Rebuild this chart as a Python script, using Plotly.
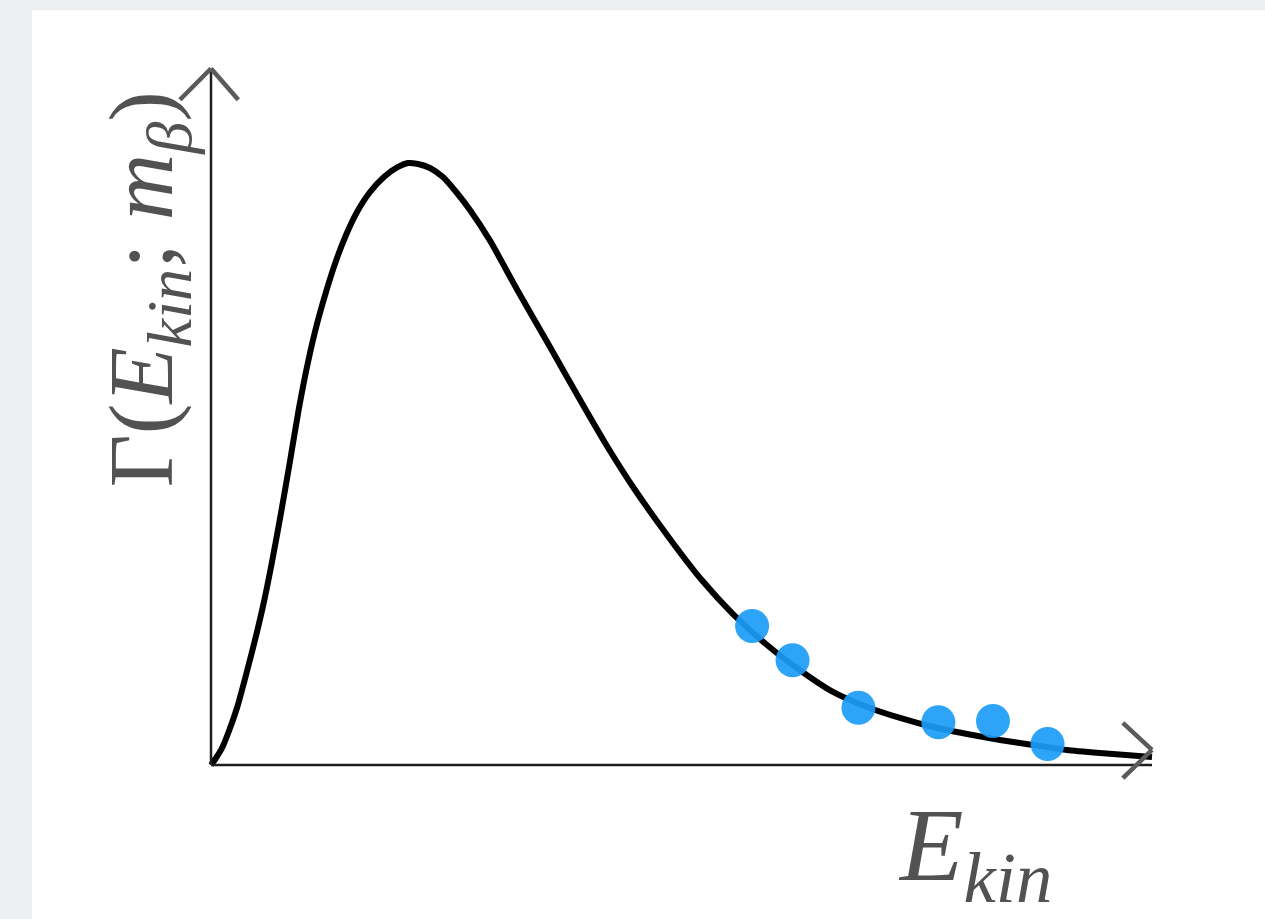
import plotly.graph_objects as go

# Beta spectrum shape: kinetic energy (fraction of endpoint) vs. rate (fraction of peak)
e_kin = [0.0, 0.0053, 0.0117, 0.0191, 0.0276, 0.0361, 0.0457, 0.0553, 0.0648,
         0.0744, 0.0840, 0.0935, 0.1031, 0.1126, 0.1222, 0.1328, 0.1435, 0.1552,
         0.1690, 0.1838, 0.1987, 0.2094, 0.2200, 0.2327, 0.2465, 0.2614, 0.2752,
         0.2965, 0.3252, 0.3603, 0.3953, 0.4208, 0.4485, 0.4846, 0.5197, 0.5547,
         0.5909, 0.6270, 0.6610, 0.6971, 0.7322, 0.7673, 0.8034, 0.8385, 0.8735,
         0.9097, 0.9447, 1.0]
gamma = [0.0, 0.0116, 0.0282, 0.0565, 0.0947, 0.1429, 0.2010, 0.2641, 0.3372,
         0.4186, 0.5050, 0.5930, 0.6694, 0.7326, 0.7857, 0.8372, 0.8804, 0.9186,
         0.9518, 0.9767, 0.9934, 1.0, 0.9983, 0.9917, 0.9767, 0.9502, 0.9219,
         0.8710, 0.7900, 0.6944, 0.5980, 0.5299, 0.4618, 0.3821, 0.3106, 0.2508,
         0.1993, 0.1561, 0.1213, 0.0963, 0.0781, 0.0631, 0.0515, 0.0415, 0.0332,
         0.0249, 0.0199, 0.0133]

# Measured points near the endpoint
meas_e = [0.575, 0.618, 0.688, 0.773, 0.831, 0.889]
meas_gamma = [0.231, 0.174, 0.095, 0.071, 0.073, 0.035]

W, H = 1265, 919
# axis origin at pixel (211, 765); 1 unit = 941 px in x, 602 px in y
x_range = [-211 / 941, (W - 211) / 941]
y_range = [(765 - H) / 602, 765 / 602]

AXIS = "#1e1e1e"
ARROW = "#5a5a5a"
TEXT = "#525252"

fig = go.Figure()

fig.add_trace(go.Scatter(
    x=e_kin, y=gamma, mode="lines",
    line=dict(color="black", width=6, shape="spline", smoothing=0.6),
    hoverinfo="skip", showlegend=False,
))
fig.add_trace(go.Scatter(
    x=meas_e, y=meas_gamma, mode="markers",
    marker=dict(color="rgb(27,156,247)", size=34, opacity=0.92, line=dict(width=0)),
    hoverinfo="skip", showlegend=False,
))

shapes = [
    # white panel
    dict(type="rect", xref="paper", yref="paper", x0=32 / W, x1=1, y0=0, y1=1 - 10 / H,
         fillcolor="white", line=dict(width=0), layer="below"),
    # axes
    dict(type="line", x0=0, x1=0, y0=0, y1=1.155, line=dict(color=AXIS, width=2.5)),
    dict(type="line", x0=0, x1=1.0, y0=0, y1=0, line=dict(color=AXIS, width=2.5)),
    # y arrowhead
    dict(type="line", x0=-0.033, y0=1.105, x1=0, y1=1.157, line=dict(color=ARROW, width=4.5)),
    dict(type="line", x0=0.029, y0=1.105, x1=0, y1=1.157, line=dict(color=ARROW, width=4.5)),
    # x arrowhead
    dict(type="line", x0=0.969, y0=0.070, x1=1.0, y1=0.025, line=dict(color=ARROW, width=4.5)),
    dict(type="line", x0=0.969, y0=-0.022, x1=1.0, y1=0.025, line=dict(color=ARROW, width=4.5)),
]

annotations = [
    dict(text="Γ(<i>E</i><sub><i>kin</i></sub>; <i>m</i><sub><i>β</i></sub>)",
         xref="x", yref="y", x=-0.068, y=0.79, textangle=-90, showarrow=False,
         font=dict(family="Liberation Serif", size=92, color=TEXT),
         xanchor="center", yanchor="middle"),
    dict(text="<i>E</i><sub><i>kin</i></sub>",
         xref="x", yref="y", x=0.812, y=-0.145, showarrow=False,
         font=dict(family="Liberation Serif", size=104, color=TEXT),
         xanchor="center", yanchor="middle"),
]

fig.update_layout(
    width=W, height=H,
    margin=dict(l=0, r=0, t=0, b=0),
    paper_bgcolor="rgb(237,239,242)",
    plot_bgcolor="rgba(0,0,0,0)",
    xaxis=dict(range=x_range, visible=False, fixedrange=True),
    yaxis=dict(range=y_range, visible=False, fixedrange=True),
    shapes=shapes,
    annotations=annotations,
)

fig.write_html("out.html")
